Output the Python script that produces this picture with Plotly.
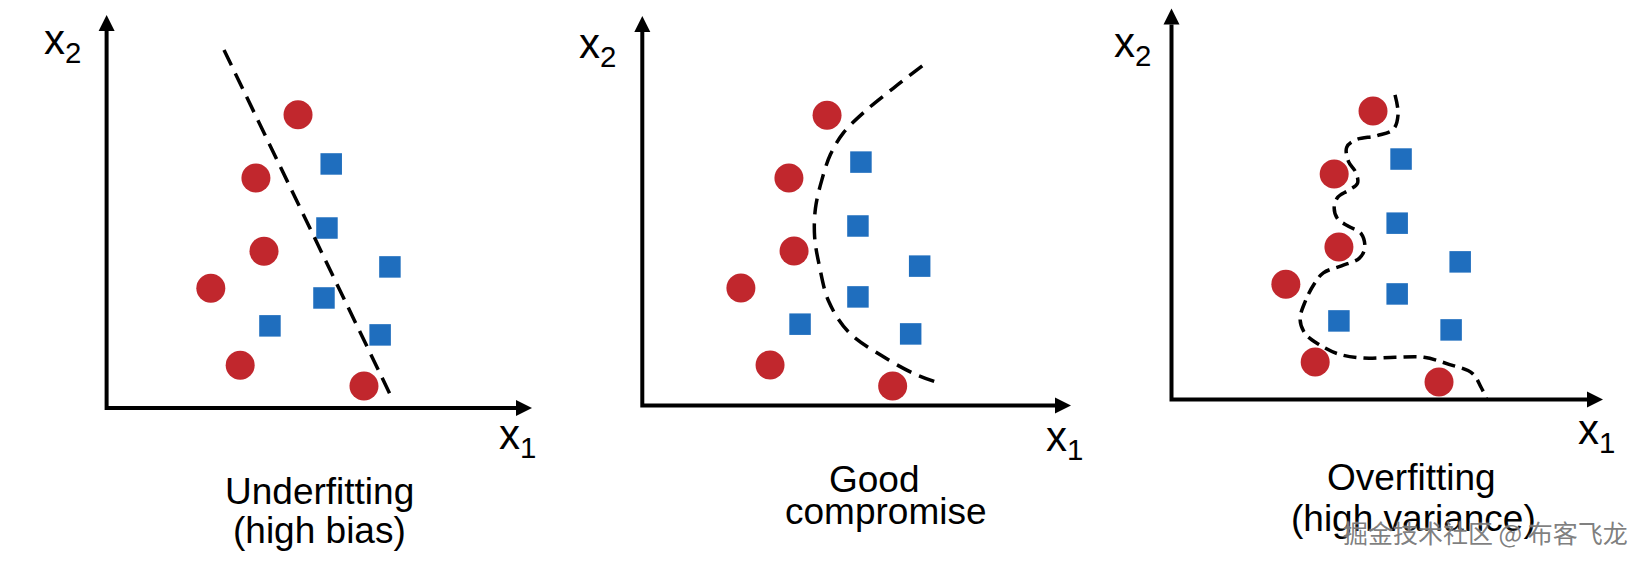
import plotly.graph_objects as go

# ---------------- data (arbitrary units: 0..10 along each axis, 10 = arrow tip) -------------
# Panel 1 - Underfitting
p1_red_x = [4.50, 3.51, 3.70, 2.45, 3.14, 6.05]
p1_red_y = [7.46, 5.85, 3.99, 3.05, 1.09, 0.56]
p1_blue_x = [5.28, 5.18, 6.66, 5.11, 3.84, 6.43]
p1_blue_y = [6.21, 4.58, 3.59, 2.80, 2.09, 1.86]
p1_bound_x = [2.76, 6.73]
p1_bound_y = [9.11, 0.20]

# Panel 2 - Good compromise
p2_red_x = [4.31, 3.42, 3.54, 2.30, 2.98, 5.84]
p2_red_y = [7.45, 5.84, 3.97, 3.02, 1.04, 0.50]
p2_blue_x = [5.10, 5.03, 6.47, 5.03, 3.68, 6.26]
p2_blue_y = [6.25, 4.61, 3.58, 2.79, 2.09, 1.84]
p2_bound_x = [6.53, 5.86, 5.19, 4.69, 4.39, 4.19, 4.04, 4.02, 4.13, 4.35, 4.81, 5.57, 6.32, 6.86]
p2_bound_y = [8.72, 8.15, 7.55, 7.00, 6.45, 5.80, 5.07, 4.33, 3.59, 2.67, 1.89, 1.29, 0.83, 0.60]

# Panel 3 - Overfitting
p3_red_x = [4.67, 3.77, 3.88, 2.65, 3.33, 6.20]
p3_red_y = [7.38, 5.77, 3.90, 2.95, 0.96, 0.45]
p3_blue_x = [5.32, 5.23, 6.69, 5.23, 3.88, 6.48]
p3_blue_y = [6.15, 4.51, 3.52, 2.70, 2.01, 1.78]
p3_bound_x = [5.18, 5.25, 5.14, 4.77, 4.27, 4.06, 4.10, 4.27, 4.31, 4.10, 3.85, 3.77, 3.85, 4.10,
              4.39, 4.48, 4.35, 3.94, 3.52, 3.31, 3.10, 2.98, 3.10, 3.43, 3.85, 4.43, 5.18, 5.85,
              6.43, 6.97, 7.18, 7.30]
p3_bound_y = [7.79, 7.28, 6.91, 6.75, 6.64, 6.45, 6.09, 5.81, 5.53, 5.35, 5.17, 4.89, 4.62, 4.43,
              4.25, 3.88, 3.61, 3.42, 3.24, 2.96, 2.51, 2.05, 1.68, 1.40, 1.17, 1.06, 1.08, 1.08,
              0.90, 0.67, 0.30, 0.03]

titles_line1 = ["Underfitting", "Good", "Overfitting"]
titles_line2 = ["(high bias)", "compromise", "(high variance)"]
x_label = "x<sub>1</sub>"
y_label = "x<sub>2</sub>"
watermark = "掘金技术社区 @ 布客飞龙"

# ---------------- layout geometry (pixels) ----------------
W, H = 1646, 561
RED = "#C1272D"
BLUE = "#1F6EBE"
FONT = "Liberation Sans, Arial, sans-serif"
HEAD = 16          # arrow head length (px)
PAD_LB, PAD_RT = 14, 4

panels = [
    dict(ox=106.6, oy=408.0, xtip=532.0, ytip=15.0,
         t1=(319, 504), t2=(319, 543), xl=(498, 448), yl=(42.7, 53),
         red=(p1_red_x, p1_red_y), blue=(p1_blue_x, p1_blue_y),
         bound=(p1_bound_x, p1_bound_y), shape="linear", dash="17px,9px"),
    dict(ox=642.3, oy=405.6, xtip=1071.0, ytip=16.0,
         t1=(874.5, 492), t2=(885.5, 524), xl=(1045, 450), yl=(578, 57),
         red=(p2_red_x, p2_red_y), blue=(p2_blue_x, p2_blue_y),
         bound=(p2_bound_x, p2_bound_y), shape="spline", dash="16px,9px"),
    dict(ox=1171.5, oy=399.5, xtip=1603.0, ytip=8.5,
         t1=(1411, 490), t2=(1413, 531), xl=(1577, 443), yl=(1113, 56),
         red=(p3_red_x, p3_red_y), blue=(p3_blue_x, p3_blue_y),
         bound=(p3_bound_x, p3_bound_y), shape="spline", dash="13px,7px"),
]

fig = go.Figure()
shapes = []
annotations = []
layout_axes = {}


def px(xp):
    return xp / W


def py(yp):
    return 1 - yp / H


for i, p in enumerate(panels):
    n = "" if i == 0 else str(i + 1)
    xa, ya = "x" + n, "y" + n
    sx = (p["xtip"] - p["ox"]) / 10.0
    sy = (p["oy"] - p["ytip"]) / 10.0
    layout_axes["xaxis" + n] = dict(
        domain=[px(p["ox"] - PAD_LB), px(p["xtip"] + PAD_RT)],
        range=[-PAD_LB / sx, 10 + PAD_RT / sx], visible=False, anchor=ya,
        fixedrange=True)
    layout_axes["yaxis" + n] = dict(
        domain=[py(p["oy"] + PAD_LB), py(p["ytip"] - PAD_RT)],
        range=[-PAD_LB / sy, 10 + PAD_RT / sy], visible=False, anchor=xa,
        fixedrange=True)

    # axes (L-shaped path) and arrow heads
    xb = 10 - HEAD / sx
    yb = 10 - HEAD / sy
    shapes.append(dict(type="path", xref=xa, yref=ya,
                       path=f"M 0,{yb} L 0,0 L {xb},0",
                       line=dict(color="black", width=4)))
    shapes.append(dict(type="path", xref=xa, yref=ya, xsizemode="pixel", ysizemode="pixel",
                       xanchor=10, yanchor=0, path="M0,0 L-16,8 L-16,-8 Z",
                       fillcolor="black", line=dict(width=0)))
    shapes.append(dict(type="path", xref=xa, yref=ya, xsizemode="pixel", ysizemode="pixel",
                       xanchor=0, yanchor=10, path="M0,0 L-8,-16 L8,-16 Z",
                       fillcolor="black", line=dict(width=0)))

    rx, ry = p["red"]
    bx, by = p["blue"]
    fig.add_trace(go.Scatter(x=rx, y=ry, mode="markers", xaxis=xa, yaxis=ya,
                             marker=dict(symbol="circle", size=29, color=RED, line=dict(width=0)),
                             showlegend=False, hoverinfo="skip", cliponaxis=False))
    fig.add_trace(go.Scatter(x=bx, y=by, mode="markers", xaxis=xa, yaxis=ya,
                             marker=dict(symbol="square", size=21.5, color=BLUE, line=dict(width=0)),
                             showlegend=False, hoverinfo="skip", cliponaxis=False))
    cx, cy = p["bound"]
    fig.add_trace(go.Scatter(x=cx, y=cy, mode="lines", xaxis=xa, yaxis=ya,
                             line=dict(color="black", width=3.5, dash=p["dash"],
                                       shape=p["shape"], smoothing=1.0),
                             showlegend=False, hoverinfo="skip", cliponaxis=False))

    # titles
    for txt, (cxp, base) in ((titles_line1[i], p["t1"]), (titles_line2[i], p["t2"])):
        annotations.append(dict(text=txt, xref="paper", yref="paper",
                                x=px(cxp), y=py(base - 0.3465 * 37),
                                xanchor="center", yanchor="middle", showarrow=False,
                                font=dict(family=FONT, size=37, color="black")))
    # axis labels
    for txt, (lx, base) in ((x_label, p["xl"]), (y_label, p["yl"])):
        annotations.append(dict(text=txt, xref="paper", yref="paper",
                                x=px(lx - 1), y=py(base - 0.905 * 42 - 1),
                                xanchor="left", yanchor="top", showarrow=False,
                                font=dict(family=FONT, size=42, color="black")))

annotations.append(dict(text=watermark, xref="paper", yref="paper",
                        x=px(1630), y=py(532), xanchor="right", yanchor="middle",
                        showarrow=False,
                        font=dict(family="Noto Sans CJK SC, sans-serif", size=25,
                                  color="rgba(115,115,115,0.92)",
                                  shadow="0px 0px 2px #ffffff")))

fig.update_layout(
    width=W, height=H, autosize=False,
    margin=dict(l=0, r=0, t=0, b=0, pad=0),
    paper_bgcolor="white", plot_bgcolor="rgba(0,0,0,0)",
    shapes=shapes, annotations=annotations, showlegend=False,
    **layout_axes,
)

fig.write_html("out.html", config={"displayModeBar": False},
               post_script="document.body.style.margin='0px';document.body.style.overflow='hidden';")
